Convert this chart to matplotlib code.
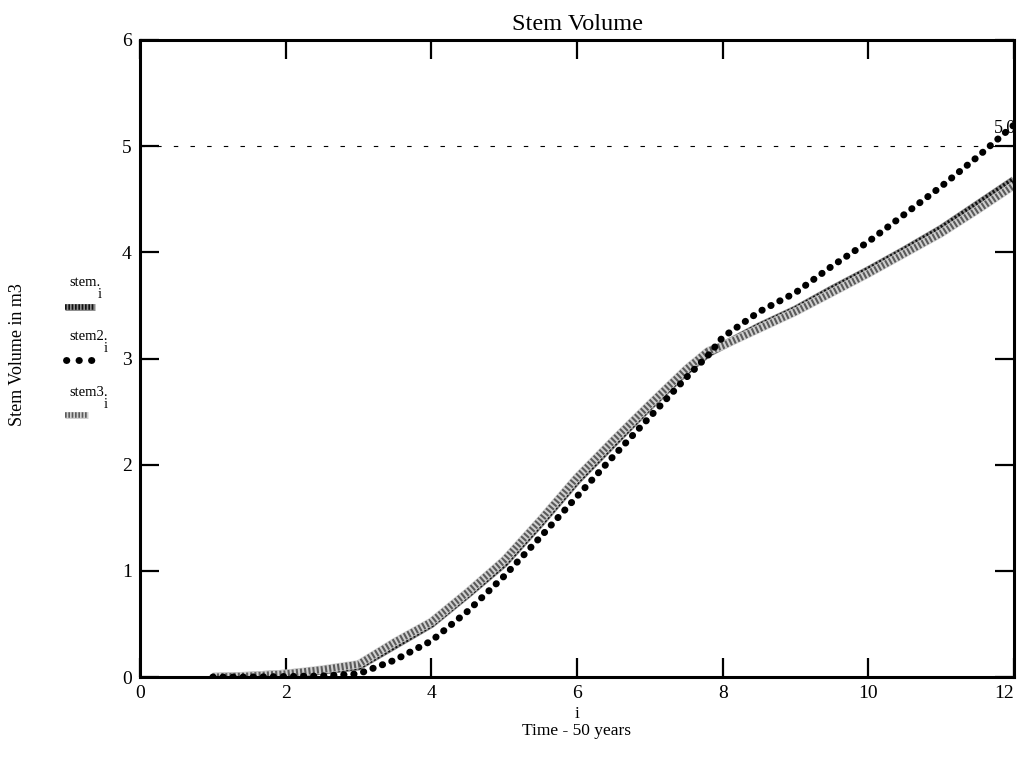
import matplotlib
matplotlib.use('Agg')
import matplotlib.pyplot as plt

plt.rcParams['font.family'] = ['Liberation Serif', 'DejaVu Serif']

# time index i (units of 50 years)
i_vals = [1.0, 1.5, 2.0, 2.5, 3.0, 3.5, 4.0, 4.5, 5.0, 5.5, 6.0, 6.5,
          7.0, 7.5, 7.8, 8.0, 8.5, 9.0, 9.5, 10.0, 10.5, 11.0, 11.5, 12.0]
stem = [0.0, 0.01, 0.03, 0.06, 0.10, 0.30, 0.50, 0.78, 1.07, 1.45, 1.85, 2.20,
        2.55, 2.88, 3.05, 3.12, 3.30, 3.46, 3.65, 3.83, 4.02, 4.22, 4.45, 4.68]
stem2 = [0.0, 0.0, 0.005, 0.01, 0.03, 0.16, 0.34, 0.62, 0.95, 1.32, 1.70, 2.08,
         2.45, 2.82, 3.03, 3.20, 3.44, 3.62, 3.87, 4.10, 4.36, 4.62, 4.90, 5.20]
stem3 = [0.0, 0.01, 0.03, 0.07, 0.12, 0.33, 0.52, 0.80, 1.10, 1.48, 1.88, 2.23,
         2.57, 2.90, 3.07, 3.12, 3.28, 3.44, 3.62, 3.80, 3.99, 4.18, 4.40, 4.63]

xticks = [0, 2, 4, 6, 8, 10, 12]
yticks = [0, 1, 2, 3, 4, 5, 6]
marker_level = 5.0

fig = plt.figure(figsize=(10.18, 7.61), dpi=100)
ax = fig.add_axes([140 / 1018, 1 - 677 / 761, 874 / 1018, 637 / 761])


def checker(axis, x, y, base, top, lw=6):
    axis.plot(x, y, color=base, lw=lw, solid_capstyle='butt')
    axis.plot(x, y, color=top, lw=lw - 1, dashes=(0.3, 0.3), dash_capstyle='butt')


def dotted(axis, x, y, gap=1.4):
    axis.plot(x, y, color='black', lw=5, linestyle=(0, (0.05, gap)),
              dash_capstyle='round')


checker(ax, i_vals, stem, '#8c8c8c', '#111111')
checker(ax, i_vals, stem3, '#cfcfcf', '#5a5a5a')
dotted(ax, i_vals, stem2)

ax.axhline(marker_level, color='black', lw=0.8, dashes=(4, 11))
ax.text(11.87, 5.17, '5.0', fontsize=13, ha='center', va='center')

ax.set_xlim(0, 12)
ax.set_ylim(0, 6)
ax.set_xticks(xticks)
ax.set_yticks(yticks)
ax.tick_params(direction='in', length=14, width=1.6, top=True, right=True,
               labelsize=14, pad=6)
xl = ax.get_xticklabels()
xl[-1].set_horizontalalignment('right')
for s in ax.spines.values():
    s.set_linewidth(2.2)

ax.set_title('Stem Volume', fontsize=17.5, pad=7)
fig.text(577 / 1018, 1 - 714 / 761, 'i', fontsize=12.5, ha='center', va='center')
fig.text(577 / 1018, 1 - 731 / 761, 'Time - 50 years', fontsize=12.5,
         ha='center', va='center')
fig.text(18 / 1018, 1 - 355 / 761, 'Stem Volume in m3', fontsize=13,
         rotation=90, ha='center', va='center')

# legend to the left of the plot, Mathcad style
leg = fig.add_axes([0, 0, 138 / 1018, 1])
leg.set_xlim(0, 138)
leg.set_ylim(761, 0)
leg.axis('off')
names = ['stem', 'stem2', 'stem3']
ys = [282, 337, 392]
sub_x = [98, 104, 104]
for name, y, sx in zip(names, ys, sub_x):
    leg.text(69, y, name + '.', fontsize=10.5, ha='left', va='center')
    leg.text(sx, y + 12, 'i', fontsize=10.5, ha='left', va='center')
checker(leg, [65, 95], [307, 307], '#8c8c8c', '#111111', lw=5)
dotted(leg, [66, 94], [360, 360], gap=1.75)
checker(leg, [65, 88], [415, 415], '#cfcfcf', '#5a5a5a', lw=5)

fig.savefig('out.png', dpi=100)
